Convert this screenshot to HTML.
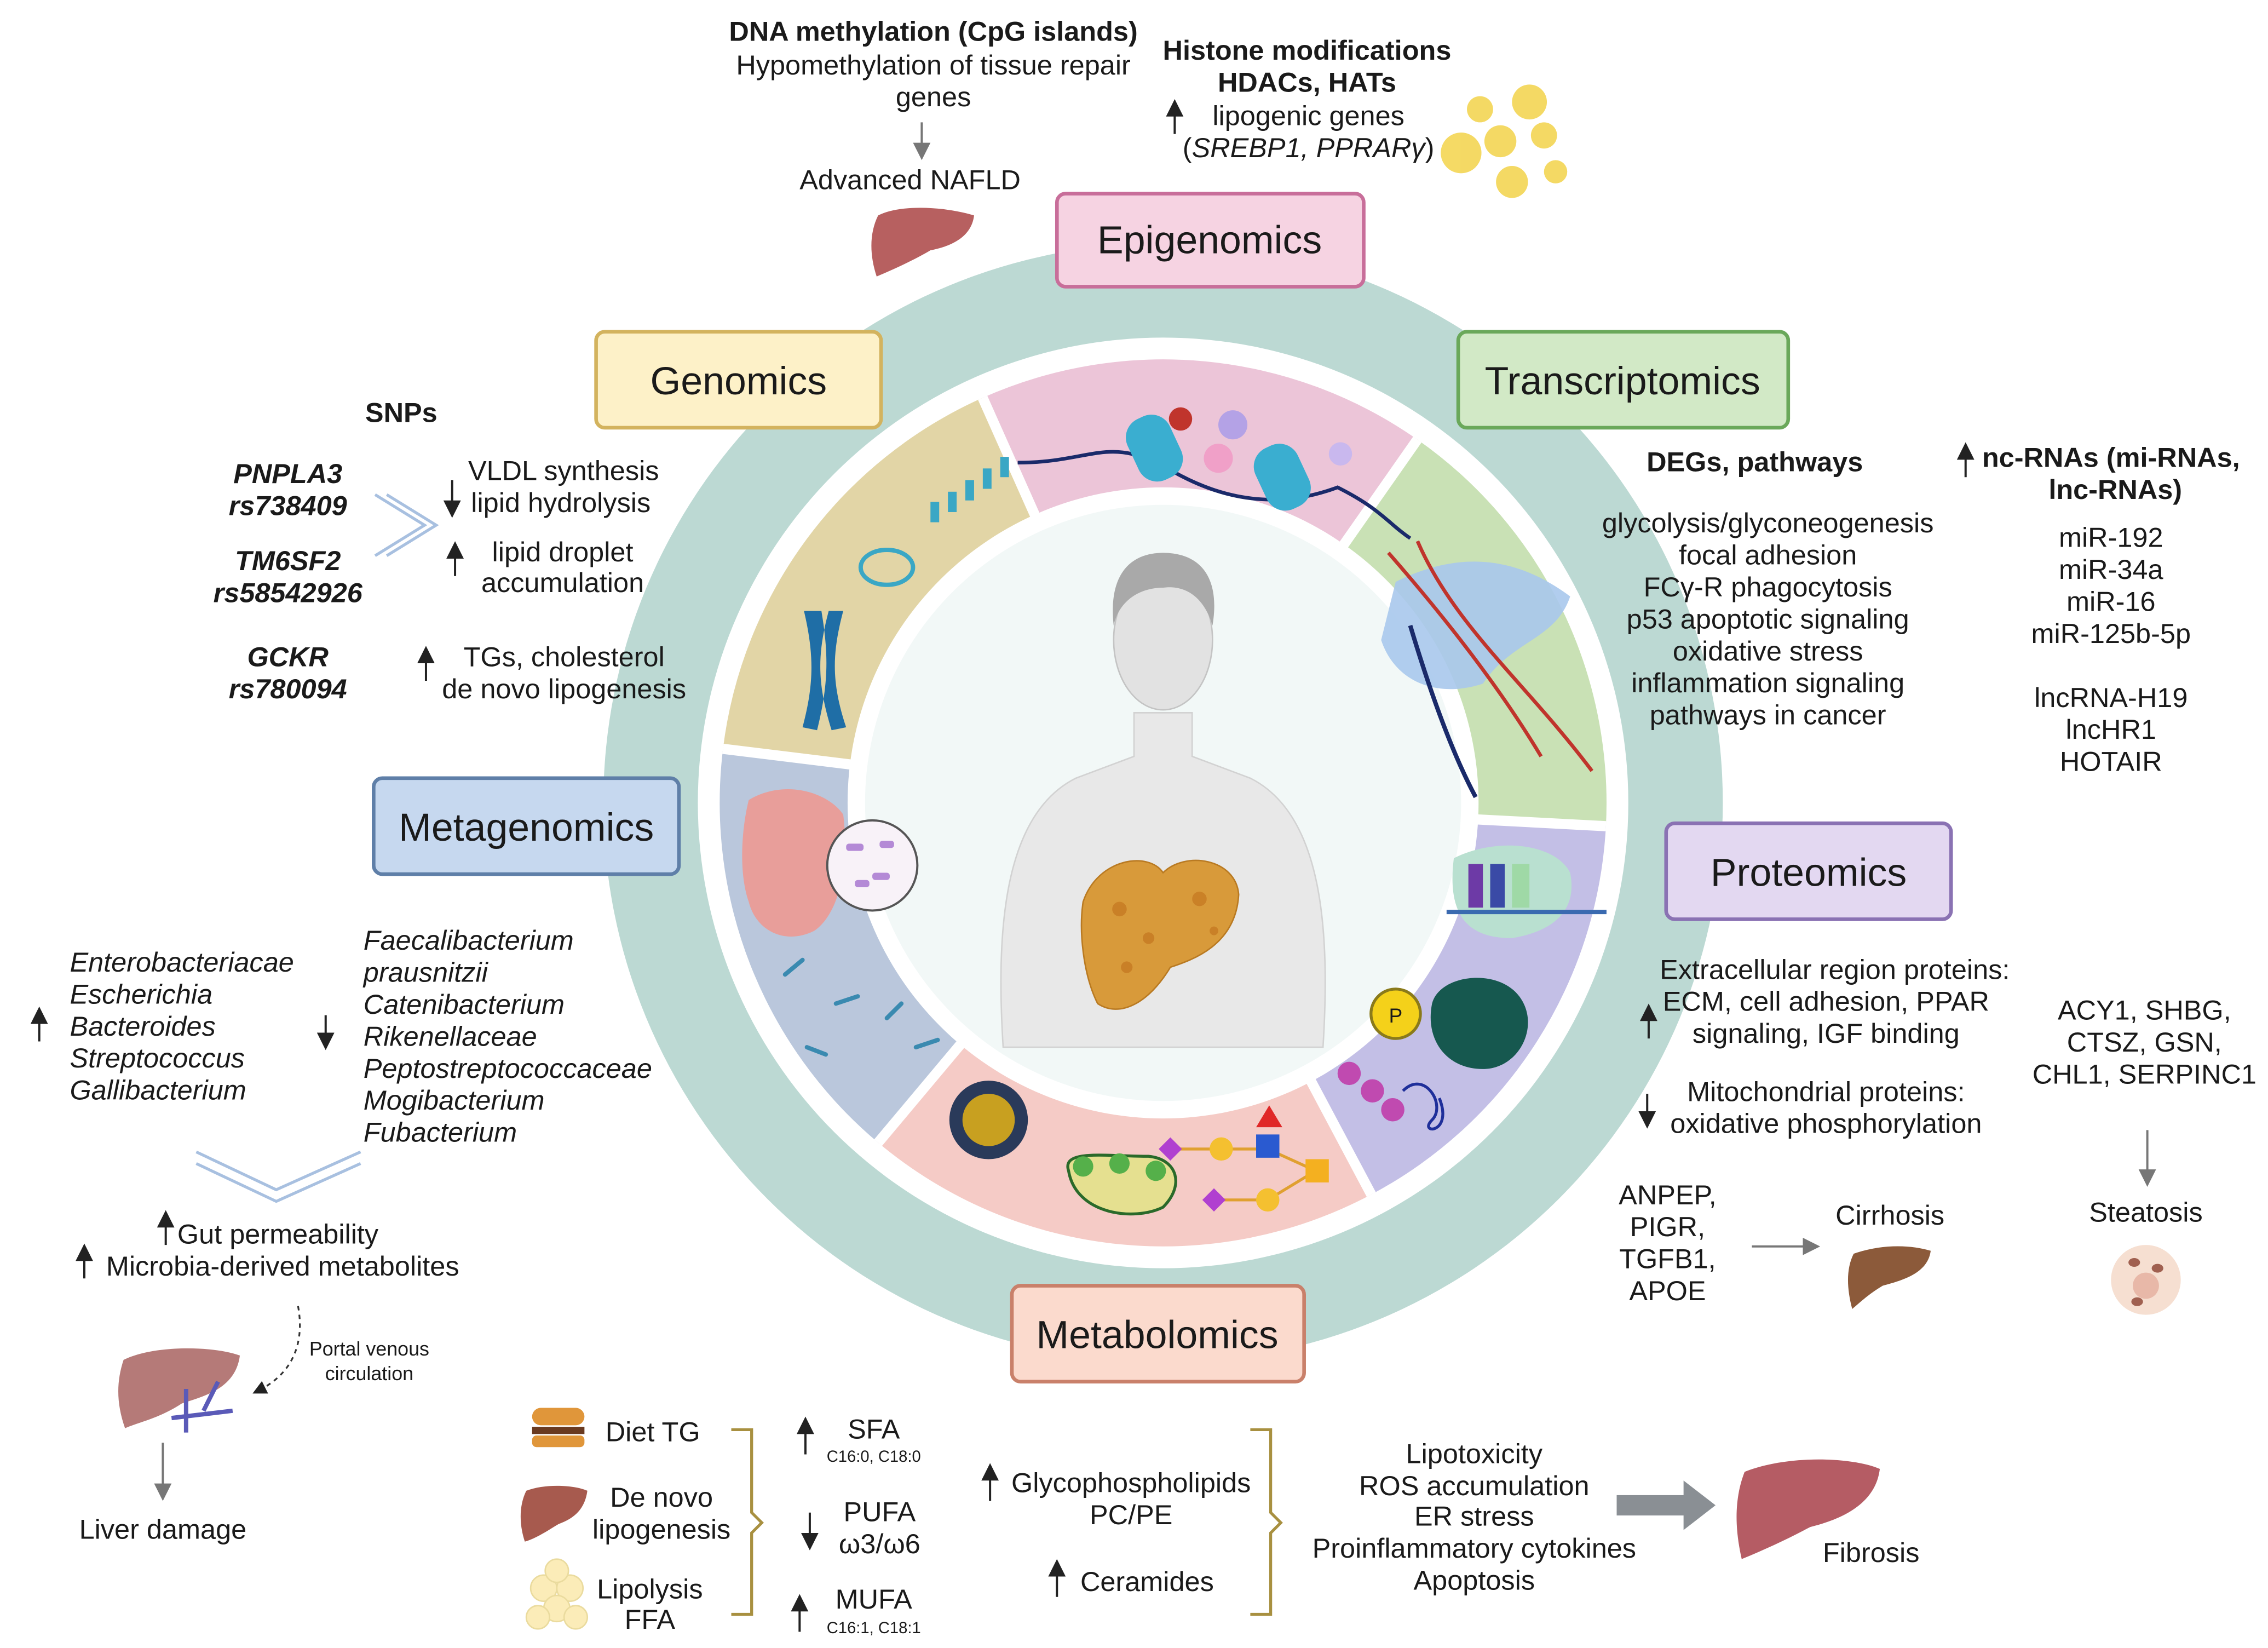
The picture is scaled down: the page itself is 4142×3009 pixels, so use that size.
<!DOCTYPE html>
<html><head><meta charset="utf-8">
<style>
html,body{margin:0;padding:0;background:#fff;}
svg{display:block;}
text{font-family:"Liberation Sans",sans-serif;fill:#1a1a1a;}
.w{font-family:"Liberation Sans",sans-serif;}
.t{font-size:19px;}
.b{font-weight:bold;}
.i{font-style:italic;}
.box{font-family:"Liberation Sans",sans-serif;font-size:27px;}
</style></head>
<body>
<svg width="4142" height="3009" viewBox="0 0 1560 1133" xmlns="http://www.w3.org/2000/svg">
<defs>
<marker id="ah" markerWidth="8" markerHeight="8" refX="4" refY="4" orient="auto"><path d="M0,0 L8,4 L0,8 Z" fill="#222"/></marker>
<marker id="ag" markerWidth="8" markerHeight="8" refX="4" refY="4" orient="auto"><path d="M0,0 L8,4 L0,8 Z" fill="#777"/></marker>
</defs>

<circle cx="800" cy="552" r="385" fill="#bcd9d3"/>
<circle cx="800" cy="552" r="320" fill="#ffffff"/>
<path d="M497.3,514.8 A305,305 0 0 1 675.9,273.4 L712.6,355.6 A215,215 0 0 0 586.6,525.8 Z" fill="#e2d5a6"/>
<path d="M675.9,273.4 A305,305 0 0 1 974.9,302.1 L923.3,375.9 A215,215 0 0 0 712.6,355.6 Z" fill="#ecc5d8"/>
<path d="M974.9,302.1 A305,305 0 0 1 1104.6,568.0 L1014.7,563.3 A215,215 0 0 0 923.3,375.9 Z" fill="#c9e1b5"/>
<path d="M1104.6,568.0 A305,305 0 0 1 943.2,821.3 L900.9,741.8 A215,215 0 0 0 1014.7,563.3 Z" fill="#c3bfe6"/>
<path d="M943.2,821.3 A305,305 0 0 1 604.0,785.6 L661.8,716.7 A215,215 0 0 0 900.9,741.8 Z" fill="#f5cbc6"/>
<path d="M604.0,785.6 A305,305 0 0 1 497.3,514.8 L586.6,525.8 A215,215 0 0 0 661.8,716.7 Z" fill="#bac7dc"/>
<g stroke="#fff" stroke-width="7">
<line x1="800" y1="552" x2="497.3" y2="514.8"/><line x1="800" y1="552" x2="675.9" y2="273.4"/>
<line x1="800" y1="552" x2="974.9" y2="302.1"/><line x1="800" y1="552" x2="1104.6" y2="568"/>
<line x1="800" y1="552" x2="943.2" y2="821.3"/><line x1="800" y1="552" x2="604" y2="785.6"/>
</g>
<circle cx="800" cy="552" r="217" fill="#ffffff"/>
<circle cx="800" cy="552" r="205" fill="#f2f8f7"/>

<path d="M690,720 C685,640 690,560 740,535 L780,520 L780,490 L820,490 L820,520 L860,535 C910,560 915,640 910,720 Z" fill="#e8e8e8" stroke="#d2d2d2"/>
<ellipse cx="800" cy="440" rx="34" ry="48" fill="#e2e2e2" stroke="#c4c4c4"/>
<path d="M766,430 C762,392 780,380 800,380 C823,380 840,394 834,430 C828,410 815,402 800,404 C785,404 770,412 766,430 Z" fill="#a9a9a9"/>
<path d="M745,620 C755,590 790,585 800,600 C815,585 850,590 852,615 C850,650 820,660 805,665 C790,690 770,700 755,690 C745,670 742,640 745,620 Z" fill="#d89a3a" stroke="#b97a22"/>
<g fill="#c4761f" opacity="0.7"><circle cx="770" cy="625" r="5"/><circle cx="790" cy="645" r="4"/><circle cx="825" cy="618" r="5"/><circle cx="775" cy="665" r="4"/><circle cx="835" cy="640" r="3"/></g>

<path d="M553,420 C560,450 560,470 552,500 L562,502 C570,470 570,450 565,420 Z M580,420 C572,450 572,470 582,500 L572,502 C562,470 562,450 570,420 Z" fill="#1f6ea6"/>
<ellipse cx="610" cy="390" rx="18" ry="12" fill="none" stroke="#3aa7c5" stroke-width="3"/>
<g fill="#3aa7c5"><rect x="640" y="345" width="6" height="14"/><rect x="652" y="338" width="6" height="14"/><rect x="664" y="330" width="6" height="14"/><rect x="676" y="322" width="6" height="14"/><rect x="688" y="314" width="6" height="14"/></g>
<path d="M700,318 C750,318 760,300 800,320 C840,345 880,350 920,335 C950,350 955,360 970,370" fill="none" stroke="#1a2a6a" stroke-width="2.5"/>
<rect x="778" y="285" width="32" height="46" rx="14" fill="#3aaed0" transform="rotate(-25 794 308)"/>
<rect x="866" y="305" width="32" height="46" rx="14" fill="#3aaed0" transform="rotate(-25 882 328)"/>
<circle cx="812" cy="288" r="8" fill="#c0342c"/><circle cx="848" cy="292" r="10" fill="#b4a2e6"/><circle cx="838" cy="315" r="10" fill="#f0a0c8"/><circle cx="922" cy="312" r="8" fill="#c9b8ee"/>
<path d="M960,400 C1000,380 1040,380 1080,410 C1070,440 1040,440 1020,470 C990,480 960,470 950,440 Z" fill="#a9c8ec" opacity="0.9"/>
<path d="M955,380 C990,420 1030,470 1060,520 M975,372 C1000,430 1050,470 1095,530" stroke="#c0342c" stroke-width="2.5" fill="none"/>
<path d="M970,430 C985,480 1000,520 1015,548" stroke="#1a2a6a" stroke-width="3" fill="none"/>
<path d="M1000,590 C1030,575 1070,580 1080,600 C1085,625 1070,640 1040,645 C1010,645 995,630 1000,590 Z" fill="#b9e0d0"/>
<rect x="1010" y="594" width="10" height="30" fill="#6d3aa6"/><rect x="1025" y="594" width="10" height="30" fill="#3a4aa6"/><rect x="1040" y="594" width="12" height="30" fill="#9fd9a6"/>
<line x1="995" y1="627" x2="1105" y2="627" stroke="#3a6ab0" stroke-width="3"/>
<circle cx="960" cy="697" r="17" fill="#f4d11a" stroke="#8a7a1a" stroke-width="2"/><text x="960" y="703" text-anchor="middle" style="font-size:14px" fill="#333">P</text>
<path d="M985,690 C990,670 1030,665 1045,685 C1060,705 1045,735 1020,735 C995,735 980,715 985,690 Z" fill="#16584f"/>
<g fill="#c04ab0"><circle cx="928" cy="738" r="8"/><circle cx="944" cy="750" r="8"/><circle cx="958" cy="763" r="8"/></g>
<path d="M965,750 C980,735 995,760 985,770 C975,780 1000,780 990,755" stroke="#1f2f9a" stroke-width="2" fill="none"/>
<circle cx="680" cy="770" r="27" fill="#2a3a5a"/><circle cx="680" cy="770" r="18" fill="#c8a020"/>
<path d="M735,805 C730,790 760,795 790,795 C810,797 815,815 800,830 C780,840 740,835 735,805 Z" fill="#e5e090" stroke="#2a6a2a" stroke-width="2"/>
<g fill="#55b04a"><circle cx="745" cy="802" r="7"/><circle cx="770" cy="800" r="7"/><circle cx="795" cy="805" r="7"/></g>
<path d="M805,790 L840,790 L872,790 L905,805 L872,825 L840,825" stroke="#e0a030" stroke-width="2" fill="none"/>
<path d="M873,760 L864,775 L882,775 Z" fill="#e02828"/><rect x="864" y="780" width="16" height="16" fill="#2a5ad0"/>
<rect x="898" y="797" width="16" height="16" fill="#f4b020"/><circle cx="840" cy="790" r="8" fill="#f4c030"/><circle cx="872" cy="825" r="8" fill="#f4c030"/>
<path d="M805,782 L813,790 L805,798 L797,790 Z" fill="#b040d0"/><path d="M835,817 L843,825 L835,833 L827,825 Z" fill="#b040d0"/>
<path d="M515,550 C540,535 570,545 580,560 C585,600 575,630 560,640 C540,650 520,640 515,620 C508,600 510,570 515,550 Z" fill="#e89e9a"/>
<circle cx="600" cy="595" r="31" fill="#f8f2f8" stroke="#555" stroke-width="1.5"/>
<g fill="#b48ad6"><rect x="582" y="580" width="12" height="5" rx="2"/><rect x="600" y="600" width="12" height="5" rx="2"/><rect x="605" y="578" width="10" height="5" rx="2"/><rect x="588" y="605" width="10" height="5" rx="2"/></g>
<g stroke="#3a8ab0" stroke-width="3" stroke-linecap="round"><line x1="540" y1="670" x2="552" y2="660"/><line x1="575" y1="690" x2="590" y2="685"/><line x1="610" y1="700" x2="620" y2="690"/><line x1="555" y1="720" x2="568" y2="725"/><line x1="630" y1="720" x2="645" y2="715"/></g>

<rect x="727" y="133" width="211" height="64" rx="6" fill="#f6d3e2" stroke="#c86e9a" stroke-width="2.5"/>
<text x="832" y="174" text-anchor="middle" class="box">Epigenomics</text>
<rect x="410" y="228" width="196" height="66" rx="6" fill="#fdf1c8" stroke="#d3b35e" stroke-width="2.5"/>
<text x="508" y="271" text-anchor="middle" class="box">Genomics</text>
<rect x="1003" y="228" width="227" height="66" rx="6" fill="#d2e9c6" stroke="#6aa85a" stroke-width="2.5"/>
<text x="1116" y="271" text-anchor="middle" class="box">Transcriptomics</text>
<rect x="257" y="535" width="210" height="66" rx="6" fill="#c6d8ef" stroke="#5f7fa8" stroke-width="2.5"/>
<text x="362" y="578" text-anchor="middle" class="box">Metagenomics</text>
<rect x="1146" y="566" width="196" height="66" rx="6" fill="#e3d8f1" stroke="#8a72b3" stroke-width="2.5"/>
<text x="1244" y="609" text-anchor="middle" class="box">Proteomics</text>
<rect x="696" y="884" width="201" height="66" rx="6" fill="#fbdacd" stroke="#c9806a" stroke-width="2.5"/>
<text x="796" y="927" text-anchor="middle" class="box">Metabolomics</text>

<text x="642" y="28" text-anchor="middle" class="t b">DNA methylation (CpG islands)</text>
<text x="642" y="51" text-anchor="middle" class="t">Hypomethylation of tissue repair</text>
<text x="642" y="73" text-anchor="middle" class="t">genes</text>
<line x1="634" y1="84" x2="634" y2="104" stroke="#777" stroke-width="1.5" marker-end="url(#ag)"/>
<text x="626" y="130" text-anchor="middle" class="t">Advanced NAFLD</text>
<path d="M604,148 C620,140 650,142 670,148 C668,165 650,170 640,172 C630,178 615,185 603,190 C598,175 598,160 604,148 Z" fill="#b76060"/>
<text x="899" y="41" text-anchor="middle" class="t b">Histone modifications</text>
<text x="899" y="63" text-anchor="middle" class="t b">HDACs, HATs</text>
<line x1="808" y1="92" x2="808" y2="74" stroke="#222" stroke-width="1.5" marker-end="url(#ah)"/>
<text x="900" y="86" text-anchor="middle" class="t">lipogenic genes</text>
<text x="900" y="108" text-anchor="middle" class="t">(<tspan class="i">SREBP1, PPRARγ</tspan>)</text>
<g fill="#f3d34a" opacity="0.85"><circle cx="1018" cy="75" r="9"/><circle cx="1052" cy="70" r="12"/><circle cx="1032" cy="97" r="11"/><circle cx="1062" cy="93" r="9"/><circle cx="1005" cy="105" r="14"/><circle cx="1040" cy="125" r="11"/><circle cx="1070" cy="118" r="8"/></g>

<text x="276" y="290" text-anchor="middle" class="t b">SNPs</text>
<text x="198" y="332" text-anchor="middle" class="t b i">PNPLA3</text>
<text x="198" y="354" text-anchor="middle" class="t b i">rs738409</text>
<text x="198" y="392" text-anchor="middle" class="t b i">TM6SF2</text>
<text x="198" y="414" text-anchor="middle" class="t b i">rs58542926</text>
<text x="198" y="458" text-anchor="middle" class="t b i">GCKR</text>
<text x="198" y="480" text-anchor="middle" class="t b i">rs780094</text>
<path d="M258,340 L292,361 L258,382 M266,340 L300,361 L266,382" fill="none" stroke="#a8c0e0" stroke-width="2"/>
<line x1="311" y1="330" x2="311" y2="350" stroke="#222" stroke-width="1.5" marker-end="url(#ah)"/>
<text x="322" y="330" class="t">VLDL synthesis</text>
<text x="324" y="352" class="t">lipid hydrolysis</text>
<line x1="313" y1="396" x2="313" y2="378" stroke="#222" stroke-width="1.5" marker-end="url(#ah)"/>
<text x="387" y="386" text-anchor="middle" class="t">lipid droplet</text>
<text x="387" y="407" text-anchor="middle" class="t">accumulation</text>
<line x1="293" y1="468" x2="293" y2="450" stroke="#222" stroke-width="1.5" marker-end="url(#ah)"/>
<text x="388" y="458" text-anchor="middle" class="t">TGs, cholesterol</text>
<text x="388" y="480" text-anchor="middle" class="t">de novo lipogenesis</text>

<text x="1207" y="324" text-anchor="middle" class="t b">DEGs, pathways</text>
<text x="1216" y="366" text-anchor="middle" class="t">glycolysis/glyconeogenesis</text>
<text x="1216" y="388" text-anchor="middle" class="t">focal adhesion</text>
<text x="1216" y="410" text-anchor="middle" class="t">FCγ-R phagocytosis</text>
<text x="1216" y="432" text-anchor="middle" class="t">p53 apoptotic signaling</text>
<text x="1216" y="454" text-anchor="middle" class="t">oxidative stress</text>
<text x="1216" y="476" text-anchor="middle" class="t">inflammation signaling</text>
<text x="1216" y="498" text-anchor="middle" class="t">pathways in cancer</text>
<line x1="1352" y1="328" x2="1352" y2="310" stroke="#222" stroke-width="1.5" marker-end="url(#ah)"/>
<text x="1452" y="321" text-anchor="middle" class="t b">nc-RNAs (mi-RNAs,</text>
<text x="1455" y="343" text-anchor="middle" class="t b">lnc-RNAs)</text>
<text x="1452" y="376" text-anchor="middle" class="t">miR-192</text>
<text x="1452" y="398" text-anchor="middle" class="t">miR-34a</text>
<text x="1452" y="420" text-anchor="middle" class="t">miR-16</text>
<text x="1452" y="442" text-anchor="middle" class="t">miR-125b-5p</text>
<text x="1452" y="486" text-anchor="middle" class="t">lncRNA-H19</text>
<text x="1452" y="508" text-anchor="middle" class="t">lncHR1</text>
<text x="1452" y="530" text-anchor="middle" class="t">HOTAIR</text>

<text x="1262" y="673" text-anchor="middle" class="t">Extracellular region proteins:</text>
<text x="1256" y="695" text-anchor="middle" class="t">ECM, cell adhesion, PPAR</text>
<text x="1256" y="717" text-anchor="middle" class="t">signaling, IGF binding</text>
<line x1="1134" y1="714" x2="1134" y2="696" stroke="#222" stroke-width="1.5" marker-end="url(#ah)"/>
<text x="1256" y="757" text-anchor="middle" class="t">Mitochondrial proteins:</text>
<text x="1256" y="779" text-anchor="middle" class="t">oxidative phosphorylation</text>
<line x1="1133" y1="752" x2="1133" y2="770" stroke="#222" stroke-width="1.5" marker-end="url(#ah)"/>
<text x="1475" y="701" text-anchor="middle" class="t">ACY1, SHBG,</text>
<text x="1475" y="723" text-anchor="middle" class="t">CTSZ, GSN,</text>
<text x="1475" y="745" text-anchor="middle" class="t">CHL1, SERPINC1</text>
<line x1="1477" y1="777" x2="1477" y2="810" stroke="#777" stroke-width="1.5" marker-end="url(#ag)"/>
<text x="1476" y="840" text-anchor="middle" class="t">Steatosis</text>
<circle cx="1476" cy="880" r="24" fill="#f5dccc" opacity="0.9"/><circle cx="1476" cy="884" r="9" fill="#e8b8a8"/>
<g fill="#a06050"><ellipse cx="1468" cy="868" rx="4" ry="3"/><ellipse cx="1484" cy="872" rx="4" ry="3"/><ellipse cx="1470" cy="895" rx="4" ry="3"/></g>
<text x="1147" y="828" text-anchor="middle" class="t">ANPEP,</text>
<text x="1147" y="850" text-anchor="middle" class="t">PIGR,</text>
<text x="1147" y="872" text-anchor="middle" class="t">TGFB1,</text>
<text x="1147" y="894" text-anchor="middle" class="t">APOE</text>
<line x1="1205" y1="857" x2="1246" y2="857" stroke="#777" stroke-width="1.5" marker-end="url(#ag)"/>
<text x="1300" y="842" text-anchor="middle" class="t">Cirrhosis</text>
<path d="M1275,862 C1295,855 1315,856 1328,860 C1326,875 1310,880 1295,884 C1285,890 1280,895 1274,900 C1270,885 1270,872 1275,862 Z" fill="#8c5a3a"/>

<line x1="27" y1="716" x2="27" y2="698" stroke="#222" stroke-width="1.5" marker-end="url(#ah)"/>
<text x="48" y="668" class="t i">Enterobacteriacae</text>
<text x="48" y="690" class="t i">Escherichia</text>
<text x="48" y="712" class="t i">Bacteroides</text>
<text x="48" y="734" class="t i">Streptococcus</text>
<text x="48" y="756" class="t i">Gallibacterium</text>
<text x="250" y="653" class="t i">Faecalibacterium</text>
<text x="250" y="675" class="t i">prausnitzii</text>
<text x="250" y="697" class="t i">Catenibacterium</text>
<text x="250" y="719" class="t i">Rikenellaceae</text>
<text x="250" y="741" class="t i">Peptostreptococcaceae</text>
<text x="250" y="763" class="t i">Mogibacterium</text>
<text x="250" y="785" class="t i">Fubacterium</text>
<line x1="224" y1="698" x2="224" y2="716" stroke="#222" stroke-width="1.5" marker-end="url(#ah)"/>
<path d="M135,792 L190,818 L248,792 M135,800 L190,826 L248,800" fill="none" stroke="#a8c0e0" stroke-width="2"/>
<line x1="114" y1="856" x2="114" y2="838" stroke="#222" stroke-width="1.5" marker-end="url(#ah)"/>
<text x="122" y="855" class="t">Gut permeability</text>
<line x1="58" y1="879" x2="58" y2="861" stroke="#222" stroke-width="1.5" marker-end="url(#ah)"/>
<text x="73" y="877" class="t">Microbia-derived metabolites</text>
<path d="M205,898 C210,925 200,945 178,956" fill="none" stroke="#333" stroke-width="1.2" stroke-dasharray="3,3" marker-end="url(#ah)"/>
<text x="254" y="932" text-anchor="middle" style="font-size:13.5px">Portal venous</text>
<text x="254" y="949" text-anchor="middle" style="font-size:13.5px">circulation</text>
<path d="M85,935 C105,925 145,925 165,932 C162,955 140,960 125,965 C110,975 95,978 86,982 C80,965 80,950 85,935 Z" fill="#b57a78"/>
<path d="M128,955 L128,985 M118,975 L160,970 M140,970 L150,950" stroke="#5a5ab8" stroke-width="3" fill="none"/>
<line x1="112" y1="992" x2="112" y2="1026" stroke="#777" stroke-width="1.5" marker-end="url(#ag)"/>
<text x="112" y="1058" text-anchor="middle" class="t">Liver damage</text>

<rect x="366" y="968" width="36" height="12" rx="6" fill="#e0963a"/><rect x="366" y="981" width="36" height="5" fill="#6a3a20"/><rect x="366" y="987" width="36" height="8" rx="3" fill="#e0963a"/>
<text x="449" y="991" text-anchor="middle" class="t">Diet TG</text>
<path d="M362,1025 C375,1020 395,1021 404,1025 C402,1040 392,1045 384,1048 C376,1053 368,1058 361,1060 C357,1048 357,1035 362,1025 Z" fill="#a75a4e"/>
<text x="455" y="1036" text-anchor="middle" class="t">De novo</text>
<text x="455" y="1058" text-anchor="middle" class="t">lipogenesis</text>
<g fill="#fbecb8" stroke="#eadb9e"><circle cx="374" cy="1092" r="9"/><circle cx="392" cy="1092" r="9"/><circle cx="383" cy="1106" r="9"/><circle cx="370" cy="1112" r="8"/><circle cx="396" cy="1112" r="8"/><circle cx="383" cy="1080" r="8"/></g>
<text x="447" y="1099" text-anchor="middle" class="t">Lipolysis</text>
<text x="447" y="1120" text-anchor="middle" class="t">FFA</text>
<path d="M503,983 L517,983 L517,1040 L524,1047 L517,1054 L517,1110 L503,1110" fill="none" stroke="#a89040" stroke-width="2"/>
<line x1="554" y1="1000" x2="554" y2="980" stroke="#222" stroke-width="1.5" marker-end="url(#ah)"/>
<text x="601" y="989" text-anchor="middle" class="t">SFA</text>
<text x="601" y="1005" text-anchor="middle" style="font-size:11px">C16:0, C18:0</text>
<line x1="557" y1="1040" x2="557" y2="1060" stroke="#222" stroke-width="1.5" marker-end="url(#ah)"/>
<text x="605" y="1046" text-anchor="middle" class="t">PUFA</text>
<text x="605" y="1068" text-anchor="middle" class="t">ω3/ω6</text>
<line x1="550" y1="1122" x2="550" y2="1102" stroke="#222" stroke-width="1.5" marker-end="url(#ah)"/>
<text x="601" y="1106" text-anchor="middle" class="t">MUFA</text>
<text x="601" y="1123" text-anchor="middle" style="font-size:11px">C16:1, C18:1</text>
<line x1="681" y1="1032" x2="681" y2="1012" stroke="#222" stroke-width="1.5" marker-end="url(#ah)"/>
<text x="778" y="1026" text-anchor="middle" class="t">Glycophospholipids</text>
<text x="778" y="1048" text-anchor="middle" class="t">PC/PE</text>
<line x1="727" y1="1098" x2="727" y2="1078" stroke="#222" stroke-width="1.5" marker-end="url(#ah)"/>
<text x="789" y="1094" text-anchor="middle" class="t">Ceramides</text>
<path d="M860,983 L874,983 L874,1040 L881,1047 L874,1054 L874,1110 L860,1110" fill="none" stroke="#a89040" stroke-width="2"/>
<text x="1014" y="1006" text-anchor="middle" class="t">Lipotoxicity</text>
<text x="1014" y="1028" text-anchor="middle" class="t">ROS accumulation</text>
<text x="1014" y="1049" text-anchor="middle" class="t">ER stress</text>
<text x="1014" y="1071" text-anchor="middle" class="t">Proinflammatory cytokines</text>
<text x="1014" y="1093" text-anchor="middle" class="t">Apoptosis</text>
<path d="M1112,1028 L1158,1028 L1158,1018 L1180,1035 L1158,1052 L1158,1042 L1112,1042 Z" fill="#8a8f94"/>
<path d="M1200,1012 C1230,1000 1275,1002 1293,1010 C1290,1035 1265,1045 1245,1050 C1230,1058 1215,1065 1198,1072 C1193,1050 1193,1030 1200,1012 Z" fill="#b55c64"/>
<text x="1287" y="1074" text-anchor="middle" class="t">Fibrosis</text>
</svg>
</body></html>
